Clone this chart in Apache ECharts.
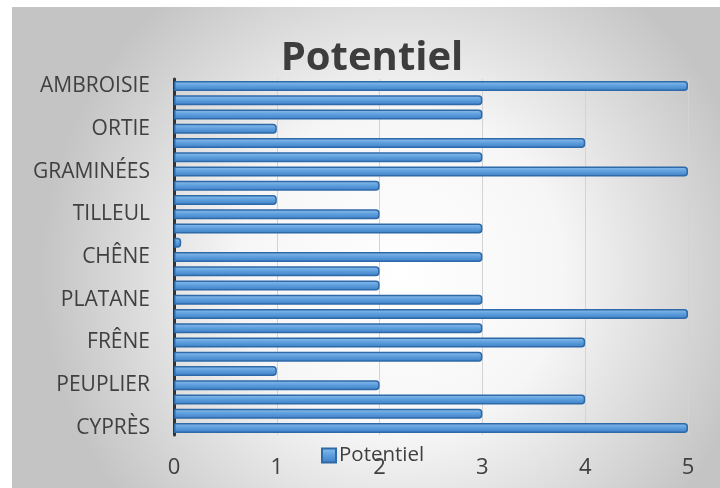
<!DOCTYPE html>
<html>
<head>
<meta charset="utf-8">
<script src="https://cdn.jsdelivr.net/npm/echarts@6/dist/echarts.min.js"></script>
<style>
  html, body { margin: 0; padding: 0; background: #ffffff; }
  #chart { width: 720px; height: 488px; }
</style>
</head>
<body>
<div id="chart"></div>
<script>
// Pollen categories, top to bottom (only every third one carries a label)
const categories = [
  "AMBROISIE", "", "", "ORTIE", "", "", "GRAMINÉES", "", "", "TILLEUL", "", "",
  "CHÊNE", "", "", "PLATANE", "", "", "FRÊNE", "", "", "PEUPLIER", "", "", "CYPRÈS"
];
// Potentiel value for each category, same order
const potentiel = [
  5, 3, 3, 1, 4, 3, 5, 2, 1, 2, 3, 0.07,
  3, 2, 2, 3, 5, 3, 4, 3, 1, 2, 4, 3, 5
];
const xTicks = [0, 1, 2, 3, 4, 5];
const seriesName = "Potentiel";

const chart = echarts.init(document.getElementById("chart"));
const font = "'Open Sans', 'Liberation Sans', sans-serif";

chart.setOption({
  animation: false,
  graphic: [{
    type: "rect",
    z: -10,
    shape: { x: 12, y: 7, width: 708, height: 481 },
    style: {
      fill: new echarts.graphic.RadialGradient(0.55, 0.55, 0.75, [
        { offset: 0, color: "#ffffff" },
        { offset: 0.45, color: "#f6f6f6" },
        { offset: 1, color: "#c4c4c4" }
      ])
    }
  }],
  title: {
    text: seriesName,
    left: 367,
    textAlign: "center",
    top: 34,
    textStyle: { fontFamily: font, fontSize: 40, fontWeight: "bold", color: "#3d3d3d" }
  },
  legend: {
    data: [seriesName],
    left: 316,
    top: 440,
    itemWidth: 14,
    itemHeight: 14,
    itemGap: 4,
    icon: "rect",
    textStyle: { fontFamily: font, fontSize: 20.5, color: "#404040", padding: [0, 0, 0, -2] }
  },
  grid: { left: 174, right: 32, top: 79, bottom: 53, containLabel: false },
  xAxis: {
    type: "value",
    min: xTicks[0],
    max: xTicks[xTicks.length - 1],
    interval: 1,
    axisLine: { show: false },
    axisTick: { show: false },
    axisLabel: { fontFamily: font, fontSize: 22, color: "#404040", margin: 22 },
    splitLine: { show: true, lineStyle: { color: "#d3d3d3", width: 1 } }
  },
  yAxis: {
    type: "category",
    data: categories,
    inverse: true,
    axisLine: { show: true, lineStyle: { color: "#333333", width: 3 } },
    axisTick: { show: false },
    axisLabel: { interval: 0, fontFamily: font, fontSize: 21, color: "#404040", margin: 24 }
  },
  series: [{
    name: seriesName,
    type: "bar",
    data: potentiel,
    barWidth: 10,
    itemStyle: {
      color: new echarts.graphic.LinearGradient(0, 0, 0, 1, [
        { offset: 0, color: "#8ec0ee" },
        { offset: 0.5, color: "#5c9ddc" },
        { offset: 1, color: "#3d7ec6" }
      ]),
      borderColor: "#2e69a8",
      borderWidth: 1.5,
      borderRadius: [0, 3, 3, 0]
    }
  }]
});
</script>
</body>
</html>
